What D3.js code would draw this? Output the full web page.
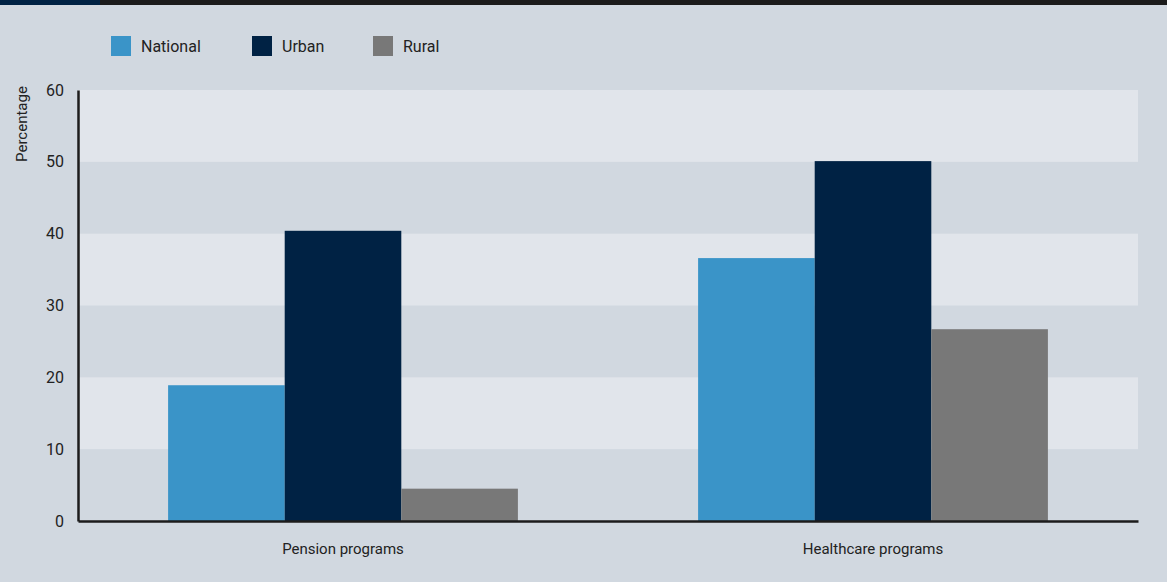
<!DOCTYPE html>
<html>
<head>
<meta charset="UTF-8">
<title>Programs by area</title>
<script src="https://cdn.jsdelivr.net/npm/d3@7"></script>
<style>
  body { margin: 0; background: #d1d8e0; }
  text { font-family: "Liberation Sans Narrow", "Roboto", "Liberation Sans", sans-serif; fill: #222; }
</style>
</head>
<body>
<svg id="chart" width="1167" height="582"></svg>
<script>
const categories = ["Pension programs", "Healthcare programs"];
const seriesNames = ["National", "Urban", "Rural"];
const national = [18.9, 36.6];
const urban = [40.4, 50.1];
const rural = [4.5, 26.7];
const yTicks = [0, 10, 20, 30, 40, 50, 60];

const colors = ["#3a94c8", "#002244", "#787878"];
const seriesValues = [national, urban, rural];

const svg = d3.select("#chart");
const W = 1167, H = 582;
const margin = { top: 90, right: 29, bottom: 61, left: 78 };

svg.append("rect").attr("width", W).attr("height", H).attr("fill", "#d1d8e0");
// top strip
svg.append("rect").attr("width", W).attr("height", 5).attr("fill", "#1c1c1c");
svg.append("rect").attr("width", 100).attr("height", 5).attr("fill", "#002244");

const x0 = d3.scaleBand()
  .domain(categories)
  .range([margin.left, W - margin.right])
  .paddingInner(0.34)
  .paddingOuter(0.17);

const x1 = d3.scaleBand()
  .domain(seriesNames)
  .range([0, x0.bandwidth()]);

const y = d3.scaleLinear()
  .domain([0, 60])
  .range([H - margin.bottom, margin.top]);

// alternating bands
const bands = d3.range(0, 60, 10).filter(v => (v / 10) % 2 === 1);
svg.append("g").selectAll("rect")
  .data(bands)
  .join("rect")
  .attr("x", margin.left)
  .attr("width", W - margin.right - margin.left)
  .attr("y", d => y(d + 10))
  .attr("height", d => y(d) - y(d + 10))
  .attr("fill", "#e1e5eb");

// bars
const rows = [];
categories.forEach((c, i) => {
  seriesNames.forEach((s, j) => rows.push({ cat: c, series: s, value: seriesValues[j][i], color: colors[j] }));
});

svg.append("g").selectAll("rect")
  .data(rows)
  .join("rect")
  .attr("x", d => x0(d.cat) + x1(d.series))
  .attr("width", x1.bandwidth())
  .attr("y", d => y(d.value))
  .attr("height", d => y(0) - y(d.value))
  .attr("fill", d => d.color);

// y axis
const yAxis = svg.append("g")
  .attr("transform", `translate(${margin.left},0)`)
  .call(d3.axisLeft(y).tickValues(yTicks).tickSize(0).tickPadding(14));
yAxis.select(".domain").attr("stroke", "#1c1c1c").attr("stroke-width", 2.5);
yAxis.selectAll("text").attr("font-size", 16).attr("fill", "#222")
  .style("font-family", "\"Liberation Sans Narrow\", Roboto, sans-serif");

svg.append("text")
  .attr("transform", `translate(27,${124}) rotate(-90)`)
  .attr("text-anchor", "middle")
  .attr("font-size", 15)
  .text("Percentage");

// x axis
const xAxis = svg.append("g")
  .attr("transform", `translate(0,${y(0)})`)
  .call(d3.axisBottom(x0).tickSize(0).tickPadding(22));
xAxis.select(".domain").attr("stroke", "#1c1c1c").attr("stroke-width", 2.5);
xAxis.selectAll("text").attr("font-size", 15).attr("fill", "#222")
  .style("font-family", "\"Liberation Sans Narrow\", Roboto, sans-serif");

// legend
const legendX = [111, 252, 373];
const legend = svg.append("g").selectAll("g")
  .data(seriesNames)
  .join("g")
  .attr("transform", (d, i) => `translate(${legendX[i]},36)`);
legend.append("rect").attr("width", 20).attr("height", 20).attr("fill", (d, i) => colors[i]);
legend.append("text").attr("x", 30).attr("y", 15.5).attr("font-size", 16).text(d => d);
</script>
</body>
</html>
